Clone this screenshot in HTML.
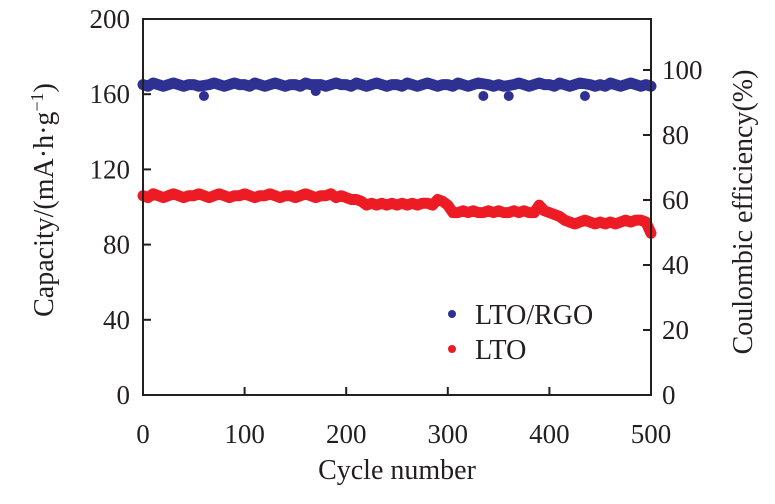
<!DOCTYPE html>
<html><head><meta charset="utf-8"><style>
html,body{margin:0;padding:0;background:#fff;}
svg, svg text{font-family:"Liberation Serif","DejaVu Serif",serif;}
</style></head><body>
<svg id="chart" width="775" height="499" viewBox="0 0 775 499" font-family="Liberation Serif, serif"></svg>
<script>
const cycles = [];
for (let i = 0; i <= 100; i++) cycles.push(i * 5);
const ltoCapacity = [106,105,107,106,105,106,107,106,105,106,106,107,106,105,106,107,106,105,106,106,107,106,105,106,106,107,106,105,106,106,105,106,107,106,105,106,106,107,105,106,
105,104,104,103,
101,102,101,102,101,102,101,102,101,102,101,102,102,101,
104,103,101,97,
97,98,97,98,97,97,98,97,98,97,97,98,97,98,97,97,
101,98,97,96,95,93,92,91,92,93,92,91,92,91,92,91,92,93,92,93,93,92,86];
const rgoEfficiency = [95.5,95,96,95.5,95,95.5,96,95.5,95,95.5,95.5,95,92,95.5,96,95.5,95,95.5,96,95.5,95.5,95,96,95.5,95,95.5,96,95.5,95,95.5,95.5,95,96,95.5,93.5,95.5,95,95.5,96,95.5,
95.5,95,96,95.5,95,95.5,96,95.5,95,95.5,95.5,95,96,95.5,95,95.5,96,95.5,95,95.5,95.5,95,96,95.5,95,95.5,96,92,95.5,95,95.5,95,92,95.5,96,95.5,95,95.5,96,95.5,
95.5,95,96,95.5,95,95.5,96,92,95.5,95,95.5,95,96,95.5,95,95.5,96,95.5,95,95.5,95];
const xTicks = [0,100,200,300,400,500];
const yLeftTicks = [0,40,80,120,160,200];
const yRightTicks = [0,20,40,60,80,100];

const NS = "http://www.w3.org/2000/svg";
const svg = document.getElementById('chart');
const FF = '"Liberation Serif", serif';
const X0=143, X1=651, YB=395, YT=19;
const xs = v => X0 + (v/500)*(X1-X0);
const yl = v => YB - (v/200)*(YB-YT);
const yr = v => YB - (v/100)*325;
function mk(tag, attrs, parent){const e=document.createElementNS(NS,tag);for(const k in attrs)e.setAttribute(k,attrs[k]);if(tag==='text')e.setAttribute('font-family',FF);(parent||svg).appendChild(e);return e;}

const gB = mk('g',{});


const bandB = rgoEfficiency.map((v,i)=>[cycles[i],v]).filter(p=>p[1]>94).map(p=>xs(p[0])+','+yr(p[1])).join(' ');
const pb = mk('polyline',{points:bandB,fill:'none',stroke:'#2e3192','stroke-width':11,'stroke-linejoin':'round','stroke-linecap':'round'},gB);


rgoEfficiency.forEach((v,i)=>{const c=mk('circle',{cx:xs(cycles[i]),cy:yr(v),r:5,fill:'#2e3192'},gB);

});
const gR = mk('g',{});


const bandR = ltoCapacity.map((v,i)=>xs(cycles[i])+','+yl(v)).join(' ');
const pr = mk('polyline',{points:bandR,fill:'none',stroke:'#ed1c24','stroke-width':11,'stroke-linejoin':'round','stroke-linecap':'round'},gR);


ltoCapacity.forEach((v,i)=>{const c=mk('circle',{cx:xs(cycles[i]),cy:yl(v),r:5,fill:'#ed1c24'},gR);

});

const fr = mk('rect',{x:X0,y:YT,width:X1-X0,height:YB-YT,fill:'none',stroke:'#231f20','stroke-width':2});



xTicks.forEach(t=>{const x=xs(t);
mk('line',{x1:x,x2:x,y1:YB,y2:YB-8,stroke:'#231f20','stroke-width':2});
const tx=mk('text',{x:x,y:443,'text-anchor':'middle','font-size':27,fill:'#231f20'});tx.textContent=t;

});
yLeftTicks.forEach(t=>{const y=yl(t);
mk('line',{x1:X0,x2:X0+8,y1:y,y2:y,stroke:'#231f20','stroke-width':2});
const tx=mk('text',{x:130,y:y+9,'text-anchor':'end','font-size':27,fill:'#231f20'});tx.textContent=t;

});
yRightTicks.forEach(t=>{const y=yr(t);
mk('line',{x1:X1,x2:X1-8,y1:y,y2:y,stroke:'#231f20','stroke-width':2});
const tx=mk('text',{x:662,y:y+9,'text-anchor':'start','font-size':27,fill:'#231f20'});tx.textContent=t;

});

const xt=mk('text',{x:397,y:479,'text-anchor':'middle','font-size':28,fill:'#231f20'});xt.textContent='Cycle number';


const ylt=mk('text',{x:0,y:0,'text-anchor':'middle','font-size':28,fill:'#231f20',transform:'translate(53,200) rotate(-90)'});
ylt.innerHTML='Capacity/(mA·h·g<tspan dy="-10" font-size="18">−1</tspan><tspan dy="10">)</tspan>';


const yrt=mk('text',{x:0,y:0,'text-anchor':'middle','font-size':28,fill:'#231f20',transform:'translate(752,212) rotate(-90)'});
yrt.textContent='Coulombic efficiency(%)';



const lg=mk('g',{});


mk('circle',{cx:452,cy:314,r:4,fill:'#2e3192'},lg);
const l1=mk('text',{x:475,y:324,'font-size':28,fill:'#231f20'},lg);l1.textContent='LTO/RGO';


mk('circle',{cx:452,cy:349,r:4,fill:'#ed1c24'},lg);
const l2=mk('text',{x:475,y:359,'font-size':28,fill:'#231f20'},lg);l2.textContent='LTO';


</script>
</body></html>
